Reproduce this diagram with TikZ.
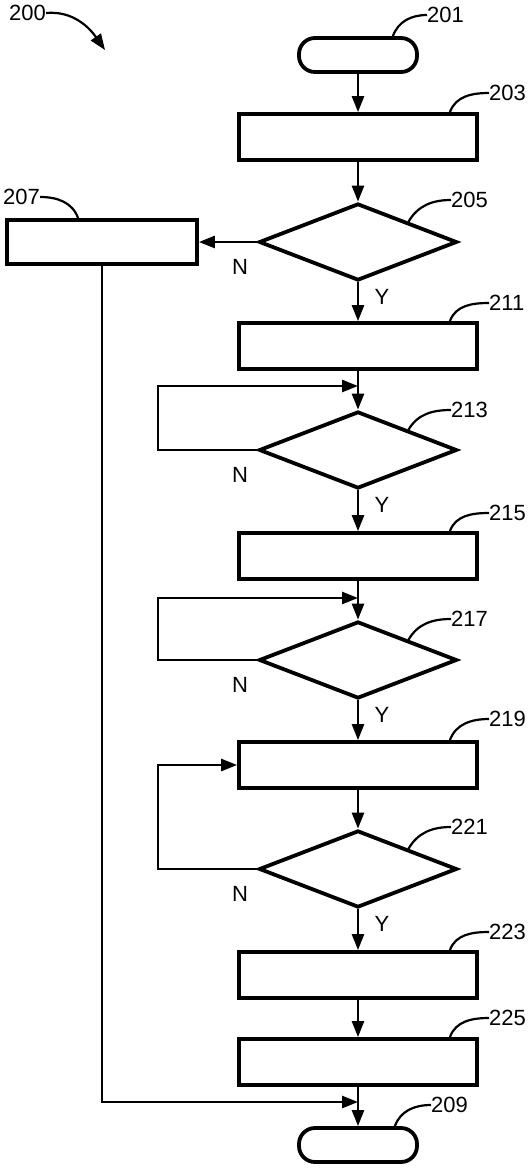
\documentclass[tikz,border=0pt]{standalone}
\usepackage{fontspec}
\setmainfont{Liberation Sans}
\usetikzlibrary{positioning, calc, shapes.geometric, arrows.meta}

\begin{document}
\begin{tikzpicture}[x=1pt, y=-1pt,
		box/.style={draw,line width=3.8pt,minimum width=238pt,minimum height=46pt,inner sep=0pt},
		term/.style={draw,line width=3.8pt,rounded corners=16pt,minimum width=118pt,minimum height=34pt,inner sep=0pt},
		dec/.style={draw,diamond,line width=3.8pt,minimum width=198pt,minimum height=77pt,inner sep=0pt},
		flow/.style={line width=2.6pt,-{Triangle[length=16pt,width=12pt]}},
		lead/.style={line width=2.2pt},
		num/.style={anchor=west,inner sep=0pt,font=\fontsize{22}{22}\selectfont},
		yn/.style={inner sep=0pt,font=\fontsize{22}{22}\selectfont}]
		\useasboundingbox (0,0) rectangle (532,1173);

		\node[term] (s) at (358,55)   {};
		\node[box]  (a) at (358,137)  {};
		\node[dec]  (b) at (358,242)  {};
		\node[box,minimum width=190pt,minimum height=44pt] (c) at (102,242) {};
		\node[box]  (d) at (358,346)  {};
		\node[dec]  (e) at (358,450)  {};
		\node[box]  (f) at (358,556)  {};
		\node[dec]  (g) at (358,660)  {};
		\node[box]  (h) at (358,765)  {};
		\node[dec]  (i) at (358,869)  {};
		\node[box]  (j) at (358,975)  {};
		\node[box]  (k) at (358,1062) {};
		\node[term] (t) at (358,1145) {};

		\coordinate (ue) at (358,386);
		\coordinate (ug) at (358,598);
		\coordinate (ut) at (358,1102);
		\coordinate (p200) at (105,50);

		% reference numbers
		\node[num] (l200) at (9,13)     {200};
		\node[num] (l201) at (427,15)   {201};
		\node[num] (l203) at (489,93)   {203};
		\node[num] (l205) at (451,200)  {205};
		\node[num] (l207) at (3,197)    {207};
		\node[num] (l211) at (489,303)  {211};
		\node[num] (l213) at (451,410)  {213};
		\node[num] (l215) at (489,513)  {215};
		\node[num] (l217) at (451,619)  {217};
		\node[num] (l219) at (489,719)  {219};
		\node[num] (l221) at (451,827)  {221};
		\node[num] (l223) at (489,932)  {223};
		\node[num] (l225) at (489,1018) {225};
		\node[num] (l209) at (431,1105) {209};

		\node[yn] (nb) at ($(b.west)+(-17,25)$)  {N};
		\node[yn] (yb) at ($(b.south)+(24,15)$)  {Y};
		\node[yn] (ne) at ($(e.west)+(-17,25)$)  {N};
		\node[yn] (ye) at ($(e.south)+(24,15)$)  {Y};
		\node[yn] (ng) at ($(g.west)+(-17,25)$)  {N};
		\node[yn] (yg) at ($(g.south)+(24,15)$)  {Y};
		\node[yn] (ni) at ($(i.west)+(-17,25)$)  {N};
		\node[yn] (yi) at ($(i.south)+(24,15)$)  {Y};

		\draw[flow] (s) -- (a);
		\draw[flow] (a) -- (b);
		\draw[flow] (b) -- (c);
		\draw[flow] (b) -- (d);
		\draw[flow] (d) -- (e);
		\draw[flow] (e) -- (f);
		\draw[flow] (f) -- (g);
		\draw[flow] (g) -- (h);
		\draw[flow] (h) -- (i);
		\draw[flow] (i) -- (j);
		\draw[flow] (j) -- (k);
		\draw[flow] (k) -- (t);
		\draw[flow] (e.west) -- ++(-99,0) |- (ue);
		\draw[flow] (g.west) -- ++(-99,0) |- (ug);
		\draw[flow] (i.west) -- ++(-99,0) |- (h.west);
		\draw[flow] (c.south) |- (ut);

		% leader lines
		\draw[lead,-{Triangle[length=16pt,width=12pt]}] (l200.east) to[out=5,in=125] (p200);
		\draw[lead] ($(s.north east)+(-26,0)$) to[out=70,in=180] (l201.west);
		\draw[lead] ($(a.north east)+(-29,0)$) to[out=70,in=180] (l203.west);
		\draw[lead] (b.north east) to[out=60,in=180] (l205.west);
		\draw[lead] (l207.east) to[out=0,in=110] ($(c.north west)+(73,0)$);
		\draw[lead] ($(d.north east)+(-29,0)$) to[out=70,in=180] (l211.west);
		\draw[lead] (e.north east) to[out=60,in=180] (l213.west);
		\draw[lead] ($(f.north east)+(-29,0)$) to[out=70,in=180] (l215.west);
		\draw[lead] (g.north east) to[out=60,in=180] (l217.west);
		\draw[lead] ($(h.north east)+(-29,0)$) to[out=70,in=180] (l219.west);
		\draw[lead] (i.north east) to[out=60,in=180] (l221.west);
		\draw[lead] ($(j.north east)+(-29,0)$) to[out=70,in=180] (l223.west);
		\draw[lead] ($(k.north east)+(-29,0)$) to[out=70,in=180] (l225.west);
		\draw[lead] ($(t.north east)+(-24,0)$) to[out=70,in=180] (l209.west);
\end{tikzpicture}
\end{document}
